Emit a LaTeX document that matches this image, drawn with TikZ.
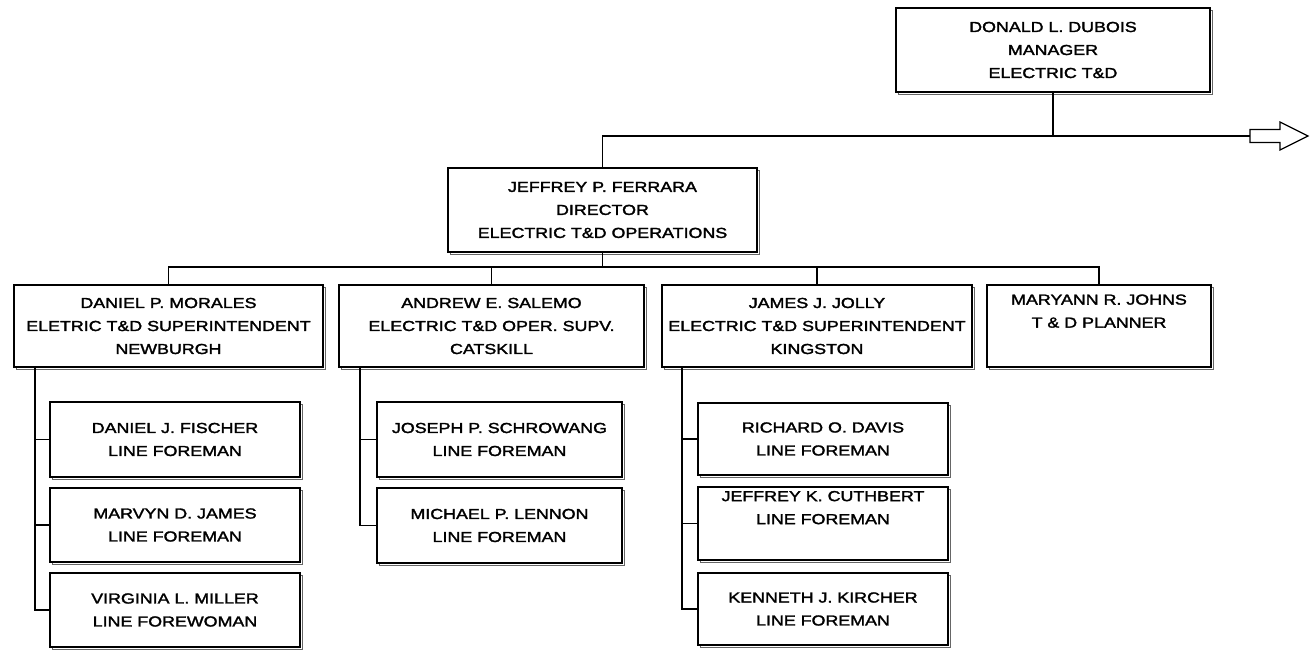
\documentclass[tikz,border=0pt]{standalone}
\usepackage{fontspec}
\usetikzlibrary{shadows}
\newfontfamily\boxfont[FakeStretch=1.23,FakeBold=2]{Liberation Sans}
\begin{document}
\begin{tikzpicture}[x=1pt,y=-1pt,
  orgbox/.style={draw, line width=1.4pt, fill=white, inner sep=0pt, align=center,
    font=\boxfont\fontsize{14.5}{23}\selectfont,
    copy shadow={shadow xshift=2.8pt, shadow yshift=-2.8pt, draw=black!60, line width=0.9pt}},
  bx/.style n args={2}{minimum width=#1pt, minimum height=#2pt},
  link/.style={line width=1.2pt}]
\useasboundingbox (0,0) rectangle (1310,651);
% top levels
\node[orgbox, bx={314}{84}] (donald) at (1053,50) {DONALD L. DUBOIS\\MANAGER\\ELECTRIC T\&D};
\node[orgbox, bx={309}{84}] (director) at (602.5,210) {JEFFREY P. FERRARA\\DIRECTOR\\ELECTRIC T\&D OPERATIONS};
% second level
\node[orgbox, bx={309}{82}] (morales) at (168.5,326) {DANIEL P. MORALES\\ELETRIC T\&D SUPERINTENDENT\\NEWBURGH};
\node[orgbox, bx={305}{82}] (salemo) at (491.5,326) {ANDREW E. SALEMO\\ELECTRIC T\&D OPER. SUPV.\\CATSKILL};
\node[orgbox, bx={310}{82}] (jolly) at (817,326) {JAMES J. JOLLY\\ELECTRIC T\&D SUPERINTENDENT\\KINGSTON};
\node[orgbox, bx={224}{82}] (johns) at (1099,326) {MARYANN R. JOHNS\\T \& D PLANNER\\\strut};
% group 1
\node[orgbox, bx={250}{75}] (fischer) at (175,439.5) {DANIEL J. FISCHER\\LINE FOREMAN};
\node[orgbox, bx={250}{74}] (james) at (175,525) {MARVYN D. JAMES\\LINE FOREMAN};
\node[orgbox, bx={250}{74}] (miller) at (175,610) {VIRGINIA L. MILLER\\LINE FOREWOMAN};
% group 2
\node[orgbox, bx={245}{75}] (schrowang) at (499.5,439.5) {JOSEPH P. SCHROWANG\\LINE FOREMAN};
\node[orgbox, bx={245}{75}] (lennon) at (499.5,525.5) {MICHAEL P. LENNON\\LINE FOREMAN};
% group 3
\node[orgbox, bx={250}{72}] (davis) at (823,439) {RICHARD O. DAVIS\\LINE FOREMAN};
\node[orgbox, bx={250}{73}] (cuthbert) at (823,523.5) {JEFFREY K. CUTHBERT\\LINE FOREMAN\\[2pt]\strut};
\node[orgbox, bx={250}{72}] (kircher) at (823,609) {KENNETH J. KIRCHER\\LINE FOREMAN};
% connectors
\coordinate (jt) at (602.5,136);
\coordinate (arr) at (1250,136);
\coordinate (ct) at (602.5,267);
\coordinate (b1) at (35,367);
\coordinate (b2) at (360,367);
\coordinate (b3) at (682,367);
\draw[link] (donald.south) -- (donald.south |- jt);
\draw[link] (arr) -- (jt) -- (director.north);
\draw[link] (director.south) -- (ct);
\draw[link] (morales.north) |- (ct);
\draw[link] (johns.north) |- (ct);
\draw[link] (salemo.north) -- (salemo.north |- ct);
\draw[link] (jolly.north) -- (jolly.north |- ct);
\draw[link] (b1) |- (fischer.west);
\draw[link] (b1) |- (james.west);
\draw[link] (b1) |- (miller.west);
\draw[link] (b2) |- (schrowang.west);
\draw[link] (b2) |- (lennon.west);
\draw[link] (b3) |- (davis.west);
\draw[link] (b3) |- (cuthbert.west);
\draw[link] (b3) |- (kircher.west);
% hollow arrow
\draw[line width=1.2pt, fill=white, line join=miter]
  (arr) ++(0,-6.5) -- ++(30,0) -- ++(0,-7.5) -- ++(28,14) -- ++(-28,14) -- ++(0,-7.5) -- ++(-30,0) -- cycle;
\end{tikzpicture}
\end{document}
